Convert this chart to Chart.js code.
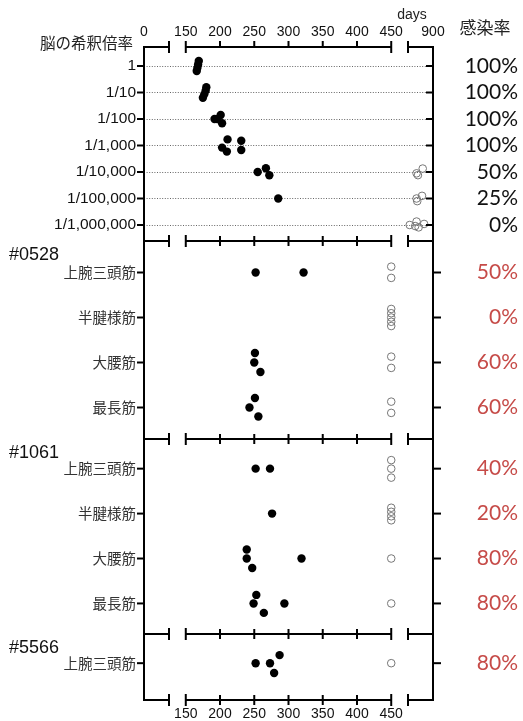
<!DOCTYPE html>
<html><head><meta charset="utf-8">
<style>html,body{margin:0;padding:0;background:#fff;overflow:hidden}</style>
<script src="https://cdn.jsdelivr.net/npm/chart.js@4/dist/chart.umd.min.js"></script>
</head><body>
<canvas id="c" width="523" height="721"></canvas>
<script>
// ---------- tick labels ----------
const xTopTickDays = [0, 150, 200, 250, 300, 350, 400, 450, 900];
const xBottomTickDays = [150, 200, 250, 300, 350, 400, 450];
const axisSegments = [[0, 36.5], [150, 450], [863.5, 900]];   // broken x axis pieces (days)
const segGap = 24.5;                                            // axis units between pieces

// ---------- brain dilution panel ----------
const brainRows = ['1', '1/10', '1/100', '1/1,000', '1/10,000', '1/100,000', '1/1,000,000'];
const brainRates = ['100%', '100%', '100%', '100%', '50%', '25%', '0%'];
const brainPosDays = [[169, 168, 167, 166], [180, 179, 177, 175], [192, 196, 201, 203], [211, 203, 210, 231, 231], [255, 267, 272], [285], []];
const brainPosOffset = [[-0.19, -0.06, 0.07, 0.19], [-0.2, -0.07, 0.07, 0.2], [0, 0, -0.15, 0.16], [-0.23, 0.08, 0.23, -0.18, 0.17], [0, -0.14, 0.12], [0], []];
const brainNegDays = [[], [], [], [], [876, 878, 885], [876, 877, 884], [866, 874, 876, 879, 887]];
const brainNegOffset = [[], [], [], [], [0.05, 0.12, -0.13], [0, 0.1, -0.1], [0, 0.04, -0.13, 0.09, -0.04]];

// ---------- muscle panels ----------
const muscleRows = ['上腕三頭筋', '半腱様筋', '大腰筋', '最長筋'];

const m0528Rates = ['50%', '0%', '60%', '60%'];
const m0528PosDays = [[252, 322], [], [251, 250, 259], [251, 243, 256]];
const m0528PosOffset = [[0, 0], [], [-0.21, 0, 0.21], [-0.21, 0, 0.2]];
const m0528NegDays = [[450, 450], [450, 450, 450, 450, 450], [450, 450], [450, 450]];
const m0528NegOffset = [[-0.13, 0.12], [-0.19, -0.095, 0, 0.095, 0.19], [-0.13, 0.12], [-0.13, 0.12]];

const m1061Rates = ['40%', '20%', '80%', '80%'];
const m1061PosDays = [[252, 273], [276], [239, 239, 247, 319], [253, 249, 294, 264]];
const m1061PosOffset = [[0, 0], [0], [-0.2, 0, 0.21, 0], [-0.19, 0, 0, 0.21]];
const m1061NegDays = [[450, 450, 450], [450, 450, 450, 450], [450], [450]];
const m1061NegOffset = [[-0.19, 0, 0.2], [-0.13, -0.04, 0.06, 0.15], [0], [0]];

const m5566Rows = ['上腕三頭筋'];
const m5566Rates = ['80%'];
const m5566PosDays = [[252, 287, 273, 279]];
const m5566PosOffset = [[0, -0.18, 0, 0.22]];
const m5566NegDays = [[450]];
const m5566NegOffset = [[0]];

const panelNames = ['#0528', '#1061', '#5566'];

// ---------- panels ----------
const panels = [
  {id: 'Brain', rows: brainRows, rates: brainRates, pos: brainPosDays, posOff: brainPosOffset, neg: brainNegDays, negOff: brainNegOffset, rateColor: '#111', min: -0.717, max: 6.604, weight: 194},
  {id: '0528', rows: muscleRows, rates: m0528Rates, pos: m0528PosDays, posOff: m0528PosOffset, neg: m0528NegDays, negOff: m0528NegOffset, rateColor: '#c64b48', min: -0.70, max: 3.70, weight: 198},
  {id: '1061', rows: muscleRows, rates: m1061Rates, pos: m1061PosDays, posOff: m1061PosOffset, neg: m1061NegDays, negOff: m1061NegOffset, rateColor: '#c64b48', min: -0.66, max: 3.68, weight: 195},
  {id: '5566', rows: m5566Rows, rates: m5566Rates, pos: m5566PosDays, posOff: m5566PosOffset, neg: m5566NegDays, negOff: m5566NegOffset, rateColor: '#c64b48', min: -0.65, max: 0.82, weight: 66}
];

function toAxis(d) {
  let start = 0;
  for (const [a, b] of axisSegments) {
    if (d <= b) return start + Math.max(d - a, 0);
    start += (b - a) + segGap;
  }
  return start - segGap;
}
const axisMax = toAxis(900);

const SANS = "'Liberation Sans', 'Noto Sans CJK JP', sans-serif";
const CJK = "'Noto Sans CJK JP', 'Liberation Sans', sans-serif";
Chart.defaults.font.family = SANS;

const scales = {
  x: {
    type: 'linear', position: 'bottom', min: 0, max: axisMax,
    afterBuildTicks: s => { s.ticks = xBottomTickDays.map(d => ({value: toAxis(d)})); },
    afterFit: s => { s.height = 21; },
    grid: {display: false, drawTicks: false}, border: {display: false},
    ticks: {autoSkip: false, maxRotation: 0, padding: 5.5, color: '#111', font: {size: 14, family: SANS},
      callback: (v, i) => String(xBottomTickDays[i])}
  },
  xTop: {
    type: 'linear', position: 'top', min: 0, max: axisMax,
    afterBuildTicks: s => { s.ticks = xTopTickDays.map(d => ({value: toAxis(d)})); },
    afterFit: s => { s.height = 47; },
    grid: {display: false, drawTicks: false}, border: {display: false},
    ticks: {autoSkip: false, maxRotation: 0, padding: 6.5, color: '#111', font: {size: 14, family: SANS},
      callback: (v, i) => String(xTopTickDays[i])}
  }
};
// left axes: later index goes on top of the stack
[...panels].reverse().forEach(p => {
  scales['y' + p.id] = {
    type: 'linear', position: 'left', stack: 'panels', stackWeight: p.weight,
    min: p.min, max: p.max, reverse: true,
    afterBuildTicks: s => { s.ticks = p.rows.map((_, i) => ({value: i})); },
    afterFit: s => { s.width = 144; },
    grid: {display: false, drawTicks: false}, border: {display: false},
    ticks: {autoSkip: false, padding: 8, color: p.id === 'Brain' ? '#111' : '#333',
      font: p.id === 'Brain' ? {size: 15.5, family: SANS} : {size: 14.5, family: CJK},
      callback: v => p.rows[v]}
  };
});
// right axes: first index goes on top of the stack
panels.forEach(p => {
  scales['r' + p.id] = {
    type: 'linear', position: 'right', stack: 'panels', stackWeight: p.weight,
    min: p.min, max: p.max, reverse: true,
    afterBuildTicks: s => { s.ticks = p.rows.map((_, i) => ({value: i})); },
    afterFit: s => { s.width = 85; },
    grid: {display: false, drawTicks: false}, border: {display: false},
    ticks: {autoSkip: false, padding: 0, crossAlign: 'far', color: p.rateColor,
      font: {size: 21, family: "Lato, 'Noto Sans', sans-serif", weight: 400},
      callback: v => p.rates[v]}
  };
});

const datasets = [];
panels.forEach(p => {
  datasets.push({
    label: p.id + ' infected', xAxisID: 'x', yAxisID: 'y' + p.id,
    data: p.pos.flatMap((days, i) => days.map((d, j) => ({x: toAxis(d), y: i + p.posOff[i][j]}))),
    pointRadius: 4.2, pointBackgroundColor: '#000', pointBorderColor: '#000', pointBorderWidth: 0,
    showLine: false, clip: false
  });
  datasets.push({
    label: p.id + ' not infected', xAxisID: 'x', yAxisID: 'y' + p.id,
    data: p.neg.flatMap((days, i) => days.map((d, j) => ({x: toAxis(d), y: i + p.negOff[i][j]}))),
    pointRadius: 3.8, pointBackgroundColor: 'rgba(255,255,255,0)', pointBorderColor: '#777', pointBorderWidth: 1,
    showLine: false, clip: false
  });
});

const brokenAxes = {
  id: 'brokenAxes',
  beforeDatasetsDraw(chart) {
    const ctx = chart.ctx, xs = chart.scales.x, yb = chart.scales.yBrain;
    ctx.save();
    ctx.strokeStyle = '#666'; ctx.lineWidth = 1; ctx.setLineDash([1, 1.6]);
    brainRows.forEach((_, i) => {
      const y = Math.round(yb.getPixelForValue(i)) + 0.5;
      ctx.beginPath(); ctx.moveTo(xs.left, y); ctx.lineTo(xs.right - 7, y); ctx.stroke();
    });
    ctx.restore();
  },
  afterDatasetsDraw(chart) {
    const ctx = chart.ctx, xs = chart.scales.x;
    const X = d => xs.getPixelForValue(toAxis(d));
    const L = xs.left, R = xs.right;
    const ys = panels.map(p => chart.scales['y' + p.id]);
    const top = ys[0].top, bottom = ys[ys.length - 1].bottom;
    ctx.save();
    ctx.strokeStyle = '#000'; ctx.lineWidth = 2; ctx.lineCap = 'butt';
    const line = (x1, y1, x2, y2) => { ctx.beginPath(); ctx.moveTo(x1, y1); ctx.lineTo(x2, y2); ctx.stroke(); };
    // vertical axes
    line(L, top - 1, L, bottom + 1);
    line(R, top - 1, R, bottom + 1);
    // broken horizontal axes
    const hy = [top, ...ys.slice(0, -1).map(s => s.bottom), bottom];
    const caps = [axisSegments[0][1], axisSegments[1][0], axisSegments[1][1], axisSegments[2][0]];
    const inner = xTopTickDays.filter(d => d > axisSegments[1][0] && d < axisSegments[1][1]);
    hy.forEach((y, k) => {
      axisSegments.forEach(([a, b]) => line(X(a) - (a === 0 ? 1 : 0), y, X(b), y));
      caps.forEach(d => line(X(d), y - 6, X(d), y + 6));
      inner.forEach(d => {
        if (k === 0) line(X(d), y - 6, X(d), y);
        else line(X(d), y - 5, X(d), y + 5);
      });
    });
    // row ticks
    panels.forEach((p, k) => {
      const s = ys[k];
      p.rows.forEach((_, i) => {
        const y = s.getPixelForValue(i);
        line(L - 7, y, L, y);
        if (k === 0) line(R - 7, y, R, y); else line(R, y, R + 8, y);
      });
    });
    // texts
    ctx.textBaseline = 'middle';
    ctx.fillStyle = '#222';
    ctx.textAlign = 'right';
    ctx.font = "15.5px " + CJK;
    ctx.fillText('脳の希釈倍率', L - 11, top - 4);
    ctx.textAlign = 'center';
    ctx.font = "17px " + CJK;
    ctx.fillText('感染率', 485, 28);
    ctx.font = "14px " + SANS;
    ctx.fillText('days', 412, 15);
    ctx.textAlign = 'left';
    ctx.fillStyle = '#111';
    ctx.font = "18px " + SANS;
    panelNames.forEach((n, k) => ctx.fillText(n, 9, ys[k + 1].top + 14));
    ctx.restore();
  }
};

new Chart(document.getElementById('c'), {
  type: 'scatter',
  data: {datasets},
  options: {
    responsive: false, animation: false, devicePixelRatio: 1,
    layout: {padding: {left: 0, right: 5, top: 0, bottom: 0}},
    plugins: {legend: {display: false}, tooltip: {enabled: false}, title: {display: false}},
    scales
  },
  plugins: [brokenAxes]
});
</script>
</body></html>
